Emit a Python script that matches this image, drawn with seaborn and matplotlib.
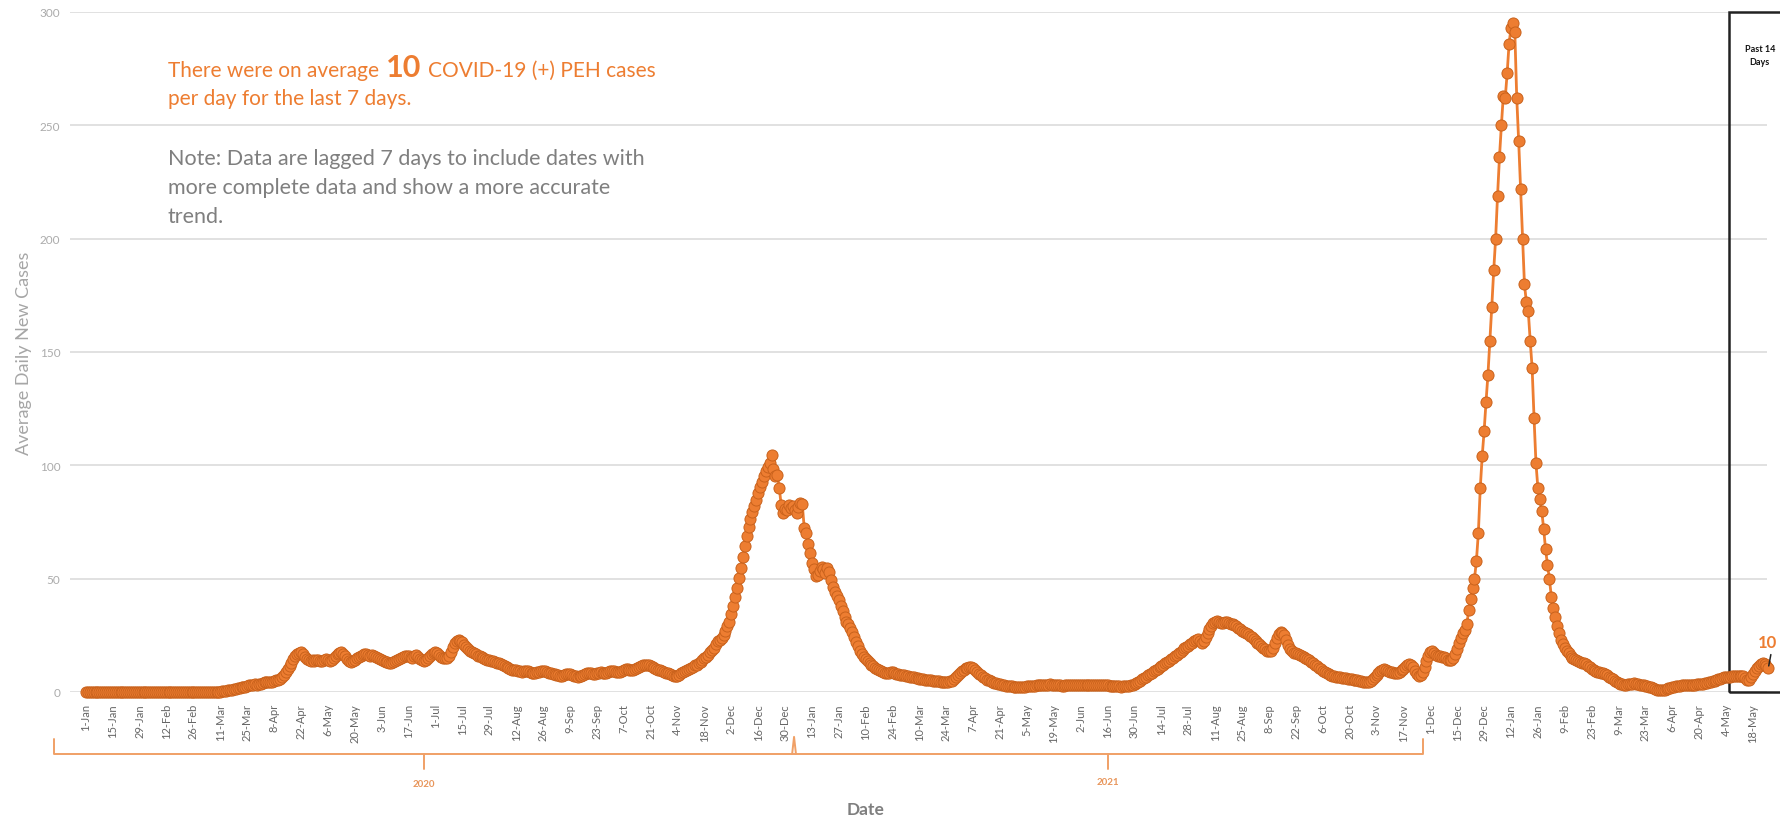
import pandas as pd
import matplotlib
matplotlib.use('Agg')
import matplotlib.pyplot as plt
import seaborn as sns
from matplotlib.patches import Rectangle
from matplotlib.transforms import IdentityTransform

# 7-day average of new COVID-19 (+) PEH cases per day
jan20 = [0, 0, 0, 0, 0, 0, 0, 0, 0, 0, 0, 0, 0, 0, 0, 0, 0, 0, 0, 0,
         0, 0, 0, 0, 0, 0, 0, 0, 0, 0, 0]
feb20 = [0, 0, 0, 0, 0, 0, 0, 0, 0, 0, 0, 0, 0, 0, 0, 0, 0, 0, 0, 0,
         0, 0, 0, 0, 0, 0, 0, 0, 0]
mar20 = [0, 0, 0, 0, 0, 0, 0, 0, 0, 0, 0.1, 0.3, 0.4, 0.6, 0.9, 1.0, 1.1, 1.3, 1.4, 1.6,
         1.9, 2.0, 2.1, 2.3, 2.6, 2.9, 3.0, 3.1, 3.4, 3.3, 3.6]
apr20 = [3.7, 4.0, 4.3, 4.6, 4.4, 4.3, 4.6, 4.9, 5.1, 5.4, 5.9, 6.6, 7.6, 8.8, 10.1, 11.6, 13.0, 14.6, 15.9, 16.8,
         17.4, 17.6, 16.8, 15.6, 14.6, 14.0, 13.6, 14.1, 13.7, 14.0]
may20 = [14.3, 13.8, 13.5, 13.9, 14.6, 14.2, 13.6, 13.9, 14.8, 15.7, 16.6, 17.4, 17.6, 16.9, 15.8, 14.6, 13.8, 13.2, 13.6, 14.3,
         14.9, 15.4, 15.9, 16.3, 16.6, 16.8, 16.4, 15.9, 16.2, 16.0, 15.6]
jun20 = [15.1, 14.6, 14.0, 13.6, 13.3, 13.1, 13.0, 12.8, 13.2, 13.6, 13.9, 14.4, 14.9, 15.3, 15.8, 16.1, 15.7, 15.3, 15.0, 15.8,
         16.2, 15.4, 14.6, 13.9, 13.7, 14.2, 14.9, 15.8, 16.6, 17.2]
jul20 = [17.5, 17.0, 16.2, 15.5, 15.0, 14.8, 15.2, 16.0, 17.8, 19.8, 21.6, 22.6, 23.0, 22.7, 22.0, 20.9, 19.8, 18.8, 18.0, 17.5,
         17.1, 16.6, 16.0, 15.7, 15.5, 15.0, 14.6, 14.2, 14.0, 13.8, 13.5]
aug20 = [13.3, 13.0, 12.7, 12.3, 11.9, 11.4, 11.0, 10.6, 10.2, 9.9, 9.7, 9.6, 9.3, 9.1, 9.0, 9.2, 9.4, 9.1, 8.8, 8.6,
         8.4, 8.5, 8.7, 8.9, 9.2, 9.4, 9.2, 8.8, 8.5, 8.2, 8.0]
sep20 = [7.8, 7.5, 7.3, 7.0, 7.2, 7.6, 7.9, 8.1, 7.8, 7.5, 7.2, 7.0, 6.8, 6.9, 7.2, 7.6, 8.0, 8.3, 8.5, 8.2,
         7.9, 8.1, 8.4, 8.6, 8.8, 8.5, 8.3, 8.6, 8.9, 9.2]
oct20 = [9.4, 9.2, 8.9, 8.7, 9.0, 9.4, 9.8, 10.1, 10.0, 9.7, 9.5, 9.8, 10.3, 10.8, 11.2, 11.6, 11.9, 12.1, 12.0, 11.8,
         11.4, 11.1, 10.8, 10.3, 9.9, 9.5, 9.2, 8.8, 8.5, 8.2, 7.9]
nov20 = [7.6, 7.2, 6.9, 7.0, 7.5, 8.2, 8.9, 9.4, 9.8, 10.1, 10.6, 11.2, 11.7, 12.1, 12.6, 13.3, 14.0, 14.8, 15.6, 16.2,
         17.6, 18.5, 19.6, 21.2, 22.3, 23.0, 23.8, 25.0, 26.8, 28.9]
dec20 = [31.0, 34.2, 38.0, 42.1, 46.0, 50.2, 54.8, 59.6, 64.5, 69.0, 73.0, 76.3, 79.2, 82.0, 84.9, 87.8, 90.4, 92.8, 95.1, 97.3,
         99.2, 101.0, 104.5, 98.3, 95.4, 95.9, 90.2, 82.4, 79.1, 80.8, 80.1]
jan21 = [82.5, 81.0, 82.2, 80.1, 79.0, 81.6, 83.4, 82.8, 72.3, 70.1, 65.4, 61.2, 57.0, 54.1, 51.3, 51.8, 53.6, 55.2, 54.4, 52.3,
         54.8, 53.1, 49.4, 46.2, 44.0, 42.3, 40.8, 38.1, 35.6, 33.2, 30.9]
feb21 = [29.8, 28.4, 26.3, 24.1, 22.0, 20.1, 18.3, 16.8, 15.6, 14.5, 13.6, 12.7, 12.0, 11.4, 10.8, 10.1, 9.6, 9.2, 8.9, 8.6,
         8.4, 8.6, 8.9, 8.8, 8.4, 8.1, 7.8, 7.6]
mar21 = [7.5, 7.3, 7.1, 6.9, 6.8, 6.6, 6.5, 6.3, 6.0, 5.9, 5.7, 5.6, 5.5, 5.3, 5.2, 5.1, 5.0, 4.9, 4.8, 4.7,
         4.6, 4.5, 4.5, 4.4, 4.5, 4.7, 5.0, 5.6, 6.4, 7.3, 8.3]
apr21 = [9.1, 9.8, 10.4, 10.8, 11.1, 11.0, 10.6, 9.9, 9.0, 8.1, 7.3, 6.6, 6.0, 5.5, 5.1, 4.7, 4.3, 4.0, 3.8, 3.6,
         3.4, 3.2, 3.0, 2.8, 2.7, 2.6, 2.5, 2.4, 2.3, 2.3]
may21 = [2.2, 2.2, 2.3, 2.4, 2.5, 2.6, 2.7, 2.8, 2.8, 2.9, 3.0, 3.0, 3.1, 3.2, 3.2, 3.3, 3.4, 3.3, 3.2, 3.1,
         3.0, 2.9, 2.8, 2.8, 2.9, 3.0, 3.1, 3.2, 3.1, 3.0, 2.9]
jun21 = [2.9, 3.0, 3.1, 3.2, 3.3, 3.2, 3.1, 3.0, 2.9, 3.0, 3.1, 3.2, 3.2, 3.1, 3.0, 2.9, 2.8, 2.8, 2.7, 2.6,
         2.5, 2.5, 2.4, 2.5, 2.6, 2.7, 2.8, 3.0, 3.2, 3.5]
jul21 = [3.9, 4.4, 5.0, 5.6, 6.2, 6.8, 7.4, 8.0, 8.6, 9.2, 9.8, 10.3, 10.9, 11.5, 12.0, 12.6, 13.2, 13.8, 14.4, 15.1,
         15.8, 16.5, 17.2, 17.8, 18.5, 19.2, 19.8, 20.4, 21.0, 21.6, 22.3]
aug21 = [23.0, 23.4, 22.6, 21.8, 22.4, 24.1, 26.0, 27.8, 29.3, 30.4, 31.0, 31.2, 30.8, 30.4, 30.6, 30.9, 31.1, 30.6, 30.0, 30.2,
         29.7, 29.1, 28.4, 27.7, 27.0, 26.5, 26.0, 25.4, 24.8, 24.1, 23.3]
sep21 = [22.6, 21.8, 21.0, 20.2, 19.5, 18.8, 18.3, 18.0, 18.2, 19.3, 21.4, 23.8, 25.6, 26.5, 26.2, 25.0, 23.0, 20.9, 19.1, 17.9,
         17.4, 17.0, 16.8, 16.4, 15.9, 15.3, 14.8, 14.5, 14.0, 13.4]
oct21 = [12.8, 12.1, 11.4, 10.7, 10.0, 9.4, 8.8, 8.3, 7.9, 7.5, 7.1, 6.9, 6.7, 6.6, 6.4, 6.2, 6.1, 6.0, 5.9, 5.8,
         5.7, 5.5, 5.3, 5.1, 4.9, 4.7, 4.5, 4.4, 4.4, 4.6, 5.0]
nov21 = [5.7, 6.6, 7.6, 8.5, 9.3, 9.9, 10.1, 9.8, 9.4, 9.0, 8.7, 8.5, 8.4, 8.6, 9.0, 9.5, 10.2, 11.0, 11.8, 12.4,
         12.1, 10.9, 9.4, 8.0, 7.1, 7.4, 9.0, 11.2, 13.6, 15.8]
dec21 = [17.6, 17.9, 17.2, 16.5, 16.0, 15.8, 15.6, 15.3, 14.8, 14.2, 13.9, 14.2, 15.0, 16.8, 19.0, 21.5, 24.0, 26.0, 27.5, 30.0,
         36.0, 41.0, 46.0, 50.0, 58.0, 70.0, 90.0, 104.0, 115.0, 128.0, 140.0]
jan22 = [155, 170, 186, 200, 219, 236, 250, 263, 262, 273, 286, 293, 295, 291, 262, 243, 222, 200, 180, 172,
         168, 155, 143, 121, 101, 90, 85, 80, 72, 63, 56]
feb22 = [50, 42, 37, 33, 29, 26, 23, 21, 19.5, 18.3, 17, 16, 15.2, 14.6, 14.1, 13.7, 13.3, 13.0, 12.6, 12.2,
         11.6, 11.0, 10.3, 9.8, 9.3, 9.0, 8.8, 8.6]
mar22 = [8.3, 7.9, 7.4, 6.8, 6.2, 5.6, 5.0, 4.5, 4.0, 3.6, 3.4, 3.3, 3.3, 3.4, 3.5, 3.7, 3.8, 3.6, 3.4, 3.2,
         3.0, 2.9, 2.7, 2.5, 2.3, 2.0, 1.7, 1.4, 1.1, 0.9, 0.8]
apr22 = [0.7, 0.9, 1.2, 1.6, 1.9, 2.2, 2.4, 2.6, 2.7, 2.8, 2.9, 3.0, 3.0, 3.1, 3.1, 3.2, 3.3, 3.3, 3.4, 3.5,
         3.6, 3.7, 3.9, 4.1, 4.3, 4.5, 4.7, 5.0, 5.3, 5.6]
may22 = [5.9, 6.2, 6.4, 6.6, 6.7, 6.8, 7.0, 7.1, 7.2, 7.1, 7.0, 7.1, 7.0, 6.2, 5.4, 5.5, 6.4, 7.8, 9.4, 10.8,
         11.6, 12.3, 12.8, 12.5, 11.6, 10.8]

months = [jan20, feb20, mar20, apr20, may20, jun20, jul20, aug20, sep20, oct20, nov20, dec20,
          jan21, feb21, mar21, apr21, may21, jun21, jul21, aug21, sep21, oct21, nov21, dec21,
          jan22, feb22, mar22, apr22, may22]
cases = [v for m in months for v in m]

start = pd.Timestamp('2020-01-01')
df = pd.DataFrame({'date': pd.date_range(start, periods=len(cases), freq='D'), 'cases': cases})

tick_dates = pd.date_range(start, '2022-05-18', freq='14D')
tick_labels = [f"{d.day}-{d:%b}" for d in tick_dates]
y_ticks = [0, 50, 100, 150, 200, 250, 300]
last7_avg = 10

orange = '#ED7D31'
grey = '#7F7F7F'

sns.set_style('white')
plt.rcParams['font.family'] = ['Lato', 'DejaVu Sans']

W, H = 1780, 820
fig = plt.figure(figsize=(W / 100, H / 100), dpi=100)
ax = fig.add_axes([70 / W, (H - 693) / H, (1767 - 70) / W, (693 - 13) / H])

sns.lineplot(data=df, x='date', y='cases', ax=ax, color=orange, linewidth=2.0,
             marker='o', markersize=8, markerfacecolor=orange,
             markeredgecolor='#C9621C', markeredgewidth=0.7)
for ln in ax.lines:
    ln.set_clip_on(False)
    ln.set_zorder(4)

day = pd.Timedelta(days=1)
ax.set_xlim(start - 8.3 * day, start + 875.3 * day)
ax.set_ylim(0, 300)
ax.set_yticks(y_ticks)
ax.set_xticks(tick_dates)
ax.set_xticklabels(tick_labels, rotation=90, fontsize=8, color='#666666')
ax.tick_params(axis='y', labelsize=8.5, labelcolor='#ABABAB', length=0, pad=7)
ax.tick_params(axis='x', length=4, color='#D9D9D9', pad=4)
ax.grid(axis='y', color='#D9D9D9', linewidth=1.1)
ax.grid(axis='x', visible=False)
for s in ax.spines.values():
    s.set_visible(False)
ax.set_xlabel('')
ax.set_ylabel('Average Daily New Cases', fontsize=13, color='#A6A6A6')
ax.yaxis.set_label_coords((32 - 70) / (1767 - 70), 0.5)

# year brackets under the axis
def d(n):
    return start + n * day

br = '#F0A066'
kw = dict(color=br, linewidth=1.4, clip_on=False, zorder=1)
ax.plot([d(-16.7), d(-16.7), d(368.7), d(696.2), d(696.2)],
        [-20.7, -27.35, -27.35, -27.35, -20.7], **kw)
ax.plot([d(367.7), d(368.7), d(369.7)], [-27.35, -19.8, -27.35], **kw)
ax.plot([d(176), d(176)], [-27.35, -34], **kw)
ax.plot([d(532), d(532)], [-27.35, -34], **kw)
ax.text(d(176), -40.5, '2020', ha='center', va='center', fontsize=7,
        fontweight='bold', color='#E8955A', clip_on=False)
ax.text(d(532), -39.5, '2021', ha='center', va='center', fontsize=7,
        fontweight='bold', color='#E8955A', clip_on=False)

# past 14 days box
ax.add_patch(Rectangle((d(855.5), 0), 60 * day, 300, fill=False, edgecolor='#222222',
                       linewidth=1.8, clip_on=False, zorder=3))
ax.text(d(871.5), 281, 'Past 14\nDays', ha='center', va='center', fontsize=6.5,
        fontweight='bold', color='#111111', linespacing=1.5, clip_on=False)

# last value callout
ax.text(d(870.8), 22, str(last7_avg), ha='left', va='center', fontsize=12,
        fontweight='bold', color=orange, clip_on=False, zorder=5)
ax.plot([d(877.3), d(876.2)], [16.5, 11.5], color='#222222', linewidth=1.1, clip_on=False, zorder=5)

fig.text(866 / W, 1 - 810 / H, 'Date', ha='center', va='center', fontsize=12.5,
         fontweight='bold', color=grey)

# headline text with a large bold number
fig.canvas.draw()
rend = fig.canvas.get_renderer()
ident = IdentityTransform()
base1 = H - 77
t1 = fig.text(168, base1, 'There were on average', transform=ident, fontsize=15,
              color=orange, va='baseline')
x1 = t1.get_window_extent(rend).x1 + 7
t2 = fig.text(x1, base1, str(last7_avg), transform=ident, fontsize=22, fontweight='bold',
              color=orange, va='baseline')
x2 = t2.get_window_extent(rend).x1 + 7
fig.text(x2, base1, 'COVID-19 (+) PEH cases', transform=ident, fontsize=15,
         color=orange, va='baseline')
fig.text(168, H - 105, 'per day for the last 7 days.', transform=ident, fontsize=15,
         color=orange, va='baseline')

note_lines = ['Note: Data are lagged 7 days to include dates with',
              'more complete data and show a more accurate',
              'trend.']
for i, line in enumerate(note_lines):
    fig.text(168, H - (165 + 29 * i), line, transform=ident, fontsize=15.5,
             color=grey, va='baseline')

fig.savefig('out.png', dpi=100)
